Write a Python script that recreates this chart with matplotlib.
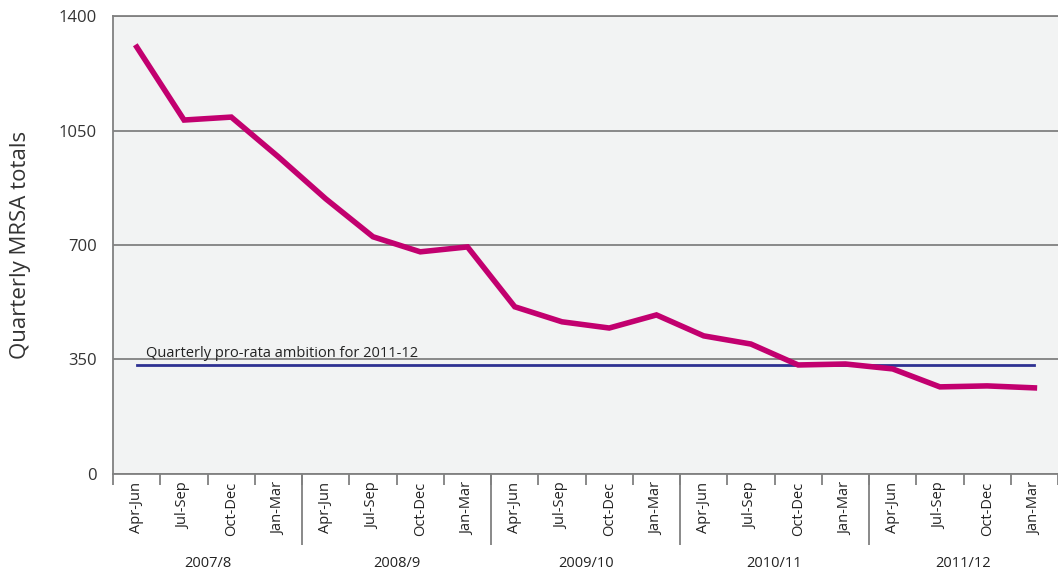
import numpy as np
import matplotlib
matplotlib.use("Agg")
import matplotlib.pyplot as plt
import matplotlib.transforms as mtransforms

plt.rcParams['font.family'] = ['Open Sans', 'DejaVu Sans']

quarters = ['Apr-Jun', 'Jul-Sep', 'Oct-Dec', 'Jan-Mar'] * 5
years = ['2007/8', '2008/9', '2009/10', '2010/11', '2011/12']
mrsa = [1305, 1082, 1091, 969, 841, 725, 679, 694, 511, 465,
        446, 486, 422, 397, 333, 336, 321, 266, 269, 263]
ambition = 333

x = np.arange(len(mrsa))

fig = plt.figure(figsize=(10.58, 5.73), dpi=100)
ax = fig.add_axes([0.107, 0.173, 0.893, 0.799])
ax.set_facecolor('#f2f3f3')

ax.plot(x, [ambition] * len(x), color='#2e3192', lw=2, zorder=3)
ax.plot(x, mrsa, color='#c2006f', lw=4, solid_joinstyle='miter', zorder=4)
ax.text(0.2, ambition + 12, 'Quarterly pro-rata ambition for 2011-12',
        fontsize=10.5, color='#222222', va='bottom', zorder=5)

ax.set_ylim(0, 1400)
ax.set_yticks([0, 350, 700, 1050, 1400])
ax.yaxis.grid(True, color='#808080', lw=1.3)
ax.set_axisbelow(True)
ax.tick_params(axis='y', length=0, labelsize=12, pad=12, colors='#333333')
ax.set_ylabel('Quarterly MRSA totals', fontsize=16, color='#333333', labelpad=20)

ax.set_xlim(-0.5, len(x) - 0.5)
ax.set_xticks(x)
ax.set_xticklabels(quarters, rotation=90, fontsize=10.5, color='#222222')
ax.set_xticks(np.arange(-0.5, len(x)), minor=True)
ax.tick_params(axis='x', which='major', length=0, pad=6)
ax.tick_params(axis='x', which='minor', length=8, width=1.3, color='#808080')

# long separators between financial years
sep = ax.secondary_xaxis('bottom')
sep.set_xticks([3.5, 7.5, 11.5, 15.5])
sep.set_xticklabels([])
sep.tick_params(length=51, width=1.3, color='#808080')
sep.spines['bottom'].set_visible(False)

trans = mtransforms.blended_transform_factory(ax.transData, ax.transAxes)
for i, yr in enumerate(years):
    ax.text(i * 4 + 1.5, -0.195, yr, transform=trans, ha='center', va='center',
            fontsize=10.5, color='#222222')

for s in ['left', 'bottom', 'top']:
    ax.spines[s].set_color('#808080')
    ax.spines[s].set_linewidth(1.3)
ax.spines['right'].set_visible(False)

fig.savefig('out.png', dpi=100)
